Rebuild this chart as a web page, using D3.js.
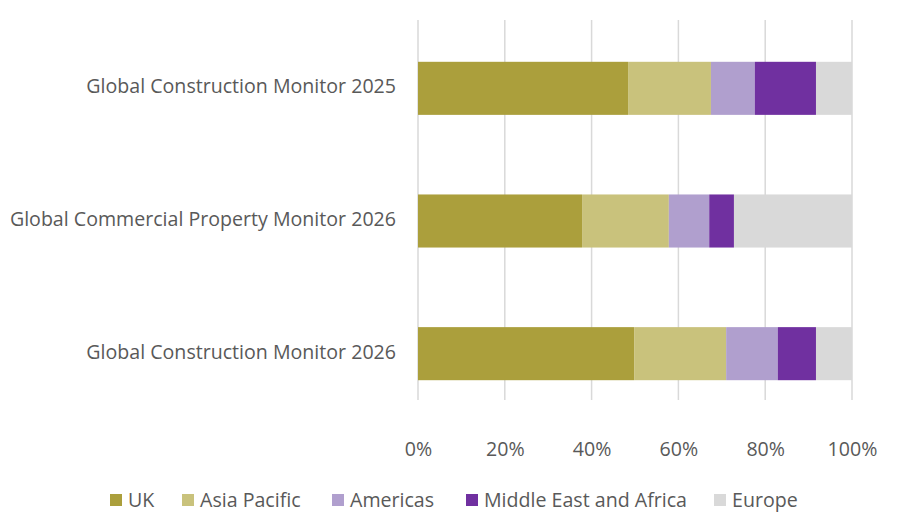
<!DOCTYPE html>
<html><head><meta charset="utf-8">
<script src="https://cdn.jsdelivr.net/npm/d3@7"></script>
<style>body{margin:0;background:#fff}</style></head>
<body><svg id="c" width="900" height="529"></svg>
<script>
const categories = ["Global Construction Monitor 2025","Global Commercial Property Monitor 2026","Global Construction Monitor 2026"];
const seriesNames = ["UK","Asia Pacific","Americas","Middle East and Africa","Europe"];
const colors = ["#ab9f3c","#c9c27c","#b09fce","#7030a0","#d9d9d9"];
const UK = [48.4, 37.8, 49.8];
const AsiaPacific = [19.1, 20.0, 21.2];
const Americas = [10.1, 9.3, 11.9];
const MEA = [14.1, 5.7, 8.8];
const Europe = [8.3, 27.2, 8.3];
const ticks = [0,20,40,60,80,100];
const vals = [UK, AsiaPacific, Americas, MEA, Europe];
const FS = 19.6;

const svg = d3.select("#c");
const x = d3.scaleLinear().domain([0,100]).range([418,852]);
const y = d3.scaleBand().domain(categories).range([22,420]).paddingInner(0.6).paddingOuter(0.3);

svg.append("g").selectAll("line").data(ticks).join("line")
  .attr("x1",d=>x(d)).attr("x2",d=>x(d)).attr("y1",20).attr("y2",400)
  .attr("stroke","#d9d9d9").attr("stroke-width",1.5);

categories.forEach((c,i)=>{
  let acc=0;
  vals.forEach((s,j)=>{
    svg.append("rect").attr("x",x(acc)).attr("width",x(acc+s[i])-x(acc))
      .attr("y",y(c)).attr("height",y.bandwidth()).attr("fill",colors[j]);
    acc+=s[i];
  });
});

const ax = svg.append("g").attr("transform","translate(0,400)")
  .call(d3.axisBottom(x).tickValues(ticks).tickFormat(d=>d+"%").tickSize(0).tickPadding(56));
ax.select(".domain").remove();
ax.selectAll("text").attr("dy",null).attr("font-family","Open Sans, sans-serif").attr("font-size",FS).attr("fill","#595959");

svg.append("g").selectAll("text").data(categories).join("text")
  .attr("x",396).attr("y",d=>y(d)+y.bandwidth()/2-2).attr("dy","0.35em")
  .attr("text-anchor","end").attr("font-family","Open Sans, sans-serif").attr("font-size",FS)
  .attr("fill","#595959").text(d=>d);

const legX=[110,182,332,466,714];
const lg = svg.append("g").selectAll("g").data(seriesNames).join("g")
  .attr("transform",(d,i)=>`translate(${legX[i]},500)`);
lg.append("rect").attr("x",0).attr("y",-6).attr("width",12).attr("height",12).attr("fill",(d,i)=>colors[i]);
lg.append("text").attr("x",18).attr("dy","0.35em").attr("font-family","Open Sans, sans-serif")
  .attr("font-size",FS).attr("fill","#595959").text(d=>d);
</script></body></html>
